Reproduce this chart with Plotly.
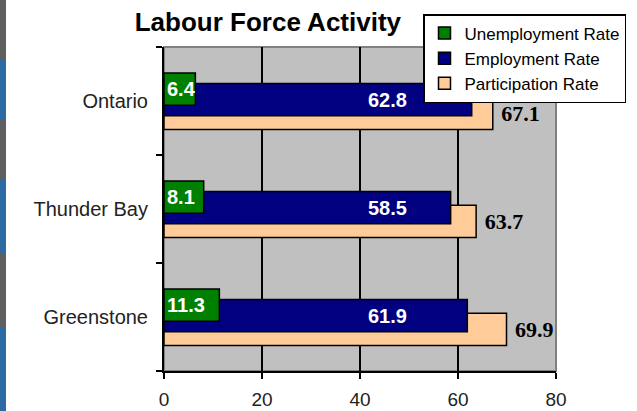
import plotly.graph_objects as go

regions = ["Greenstone", "Thunder Bay", "Ontario"]
unemployment = [11.3, 8.1, 6.4]
employment = [61.9, 58.5, 62.8]
participation = [69.9, 63.7, 67.1]

sans = "Liberation Sans, Arial, sans-serif"
serif = "Liberation Serif, Times New Roman, serif"

fig = go.Figure()

# drawn back to front: participation, employment, unemployment
fig.add_trace(go.Bar(
    y=regions, x=participation, orientation="h", name="Participation Rate",
    width=0.3, offset=-0.265, legendgroup="p",
    marker=dict(color="#FFCC99", line=dict(color="black", width=1.5)),
    text=["\u00a0" + f"{v:.1f}" for v in participation], textposition="outside",
    textfont=dict(family=serif, size=22, color="black", weight="bold"),
    cliponaxis=False,
))
fig.add_trace(go.Bar(
    y=regions, x=employment, orientation="h", name="Employment Rate",
    width=0.3, offset=-0.137, legendgroup="e",
    marker=dict(color="#000080", line=dict(color="black", width=1.5)),
))
fig.add_trace(go.Bar(
    y=regions, x=unemployment, orientation="h", name="Unemployment Rate",
    width=0.3, offset=-0.04, legendgroup="u",
    marker=dict(color="#008000", line=dict(color="black", width=1.5)),
    text=[f"{v:.1f}" for v in unemployment], textposition="inside",
    insidetextanchor="start", constraintext="none", textangle=0,
    textfont=dict(family=sans, size=20, color="white", weight="bold"),
))

# employment labels sit left of the bar end, as in the original sheet
for r, v in zip(regions, employment):
    fig.add_annotation(x=45.7, y=r, text=f"{v:.1f}", showarrow=False,
                       xanchor="center", yanchor="middle", yshift=1,
                       font=dict(family=sans, size=20, color="white", weight="bold"))

# window border strip on the far left
strip = [(0, 60, "#5f5f5f"), (60, 120, "#2d6aa3"), (120, 180, "#5f5f5f"),
         (180, 253, "#2d6aa3"), (253, 328, "#5f5f5f"), (328, 411, "#2d6aa3")]
for top, bot, col in strip:
    fig.add_shape(type="rect", xref="paper", yref="paper",
                  x0=(0 - 164) / 392, x1=(6 - 164) / 392,
                  y0=(371 - bot) / 324, y1=(371 - top) / 324,
                  fillcolor=col, line=dict(width=0))

# plot area border (grey, top and right)
fig.add_shape(type="rect", xref="paper", yref="paper", x0=0, x1=1, y0=0, y1=1,
              line=dict(color="#808080", width=2), layer="below")

fig.update_layout(
    width=637, height=411,
    margin=dict(l=164, r=81, t=47, b=40, autoexpand=False),
    paper_bgcolor="white", plot_bgcolor="#C0C0C0",
    barmode="overlay",
    showlegend=True,
    title=dict(text="<b>Labour Force Activity</b>", xref="paper", x=0.265,
               xanchor="center", yref="container", y=1 - 22 / 411, yanchor="middle",
               font=dict(family=sans, size=26, color="black")),
    legend=dict(x=(626 - 164) / 392, y=(371 - 14) / 324, xanchor="right", yanchor="top",
                traceorder="reversed", tracegroupgap=7,
                bgcolor="white", bordercolor="black", borderwidth=1.5,
                font=dict(family=sans, size=17, color="black")),
    xaxis=dict(range=[0, 80], dtick=20, showgrid=True, gridcolor="black", gridwidth=1.5,
               zeroline=False, showline=True, linecolor="black", linewidth=2,
               ticks="outside", ticklen=6, tickwidth=2, tickcolor="black",
               ticklabelstandoff=4,
               tickfont=dict(family=sans, size=19, color="#222222")),
    yaxis=dict(categoryorder="array", categoryarray=regions, showgrid=False,
               showline=True, linecolor="black", linewidth=2,
               ticks="outside", ticklen=6, tickwidth=2, tickcolor="black",
               tickson="boundaries", ticklabelstandoff=10,
               tickfont=dict(family=sans, size=20, color="#222222")),
)

fig.write_html("out.html", config={"displayModeBar": False},
               post_script="document.body.style.margin='0';")
